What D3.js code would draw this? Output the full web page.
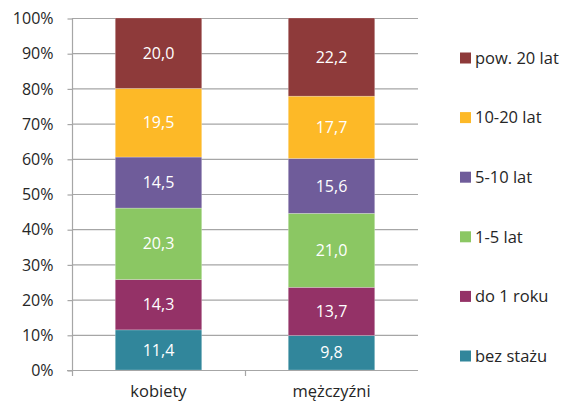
<!DOCTYPE html>
<html>
<head>
<meta charset="utf-8">
<script src="https://cdn.jsdelivr.net/npm/d3@7"></script>
<style>
  body { margin: 0; background: #fff; }
  svg { font-family: "Open Sans", "DejaVu Sans", sans-serif; }
</style>
</head>
<body>
<script>
var categories = ["kobiety", "mężczyźni"];
var seriesNames = ["bez stażu", "do 1 roku", "1-5 lat", "5-10 lat", "10-20 lat", "pow. 20 lat"];
var kobiety = [11.4, 14.3, 20.3, 14.5, 19.5, 20.0];
var mezczyzni = [9.8, 13.7, 21.0, 15.6, 17.7, 22.2];
var colors = ["#31869b", "#943267", "#8bc763", "#6f5c9a", "#fdb927", "#8e3a3a"];
var yTicks = [0, 10, 20, 30, 40, 50, 60, 70, 80, 90, 100];

var values = [kobiety, mezczyzni];
var rows = categories.map(function(c, i) {
  var r = { cat: c };
  seriesNames.forEach(function(s, j) { r[s] = values[i][j]; });
  return r;
});
var stacked = d3.stack().keys(seriesNames)(rows);

var svg = d3.select("body").append("svg")
            .attr("width", 564)
            .attr("height", 403);

var x = d3.scaleBand().domain(categories).range([72, 418]).paddingInner(0.5).paddingOuter(0.25);
var y = d3.scaleLinear().domain([0, 100]).range([370, 18]);

// gridlines
svg.append("g").selectAll("line")
    .data(yTicks.slice(1))
    .enter().append("line")
      .attr("x1", 72).attr("x2", 418)
      .attr("y1", function(d){ return y(d) + 0.5; })
      .attr("y2", function(d){ return y(d) + 0.5; })
      .attr("stroke", "#a6a6a6")
      .attr("stroke-width", 1.2);

// bars
var layer = svg.append("g").selectAll("g")
    .data(stacked)
    .enter().append("g")
      .attr("fill", function(d, i){ return colors[i]; });

layer.selectAll("rect")
    .data(function(d){ return d; })
    .enter().append("rect")
      .attr("x", function(d){ return x(d.data.cat); })
      .attr("width", x.bandwidth())
      .attr("y", function(d){ return y(d[1]); })
      .attr("height", function(d){ return y(d[0]) - y(d[1]); })
      .attr("stroke", "#ffffff")
      .attr("stroke-opacity", 0.4)
      .attr("stroke-width", 0.6);

layer.selectAll("text")
    .data(function(d){ return d; })
    .enter().append("text")
      .attr("x", function(d){ return x(d.data.cat) + x.bandwidth() / 2; })
      .attr("y", function(d){ return (y(d[0]) + y(d[1])) / 2; })
      .attr("dy", "0.35em")
      .attr("text-anchor", "middle")
      .attr("fill", "#ffffff")
      .attr("font-size", 16)
      .text(function(d){ return (d[1] - d[0]).toFixed(1).replace(".", ","); });

// y axis
var yAxis = svg.append("g")
    .attr("transform", "translate(72.5,0.5)")
    .call(d3.axisLeft(y).tickValues(yTicks).tickSize(5).tickPadding(14)
      .tickFormat(function(d){ return d + "%"; }));
yAxis.select(".domain").attr("stroke", "#a6a6a6").attr("stroke-width", 1.2)
    .attr("d", "M0," + (18 - 0.5) + "V" + (370 + 5.5));
yAxis.selectAll(".tick line").attr("stroke", "#a6a6a6").attr("stroke-width", 1.2);
yAxis.selectAll(".tick text").attr("font-size", 16).attr("fill", "#262626")
    .attr("font-family", "Open Sans, sans-serif");

// x axis baseline
svg.append("line")
    .attr("x1", 67).attr("x2", 418)
    .attr("y1", 370.5).attr("y2", 370.5)
    .attr("stroke", "#a6a6a6").attr("stroke-width", 1.2);
svg.append("line")
    .attr("x1", 245.5).attr("x2", 245.5)
    .attr("y1", 370).attr("y2", 376)
    .attr("stroke", "#a6a6a6").attr("stroke-width", 1.2);

svg.append("g").selectAll("text")
    .data(categories)
    .enter().append("text")
      .attr("x", function(d){ return x(d) + x.bandwidth() / 2; })
      .attr("y", 397)
      .attr("text-anchor", "middle")
      .attr("font-size", 16.5)
      .attr("fill", "#262626")
      .text(function(d){ return d; });

// legend
var legend = svg.append("g").selectAll("g")
    .data(seriesNames.slice().reverse())
    .enter().append("g")
      .attr("transform", function(d, i){ return "translate(460," + (58 + i * 59.6) + ")"; });
legend.append("rect")
    .attr("x", 0).attr("y", -5.5)
    .attr("width", 11).attr("height", 11)
    .attr("fill", function(d){ return colors[seriesNames.indexOf(d)]; });
legend.append("text")
    .attr("x", 15).attr("dy", "0.35em")
    .attr("font-size", 16.5)
    .attr("fill", "#262626")
    .text(function(d){ return d; });
</script>
</body>
</html>
